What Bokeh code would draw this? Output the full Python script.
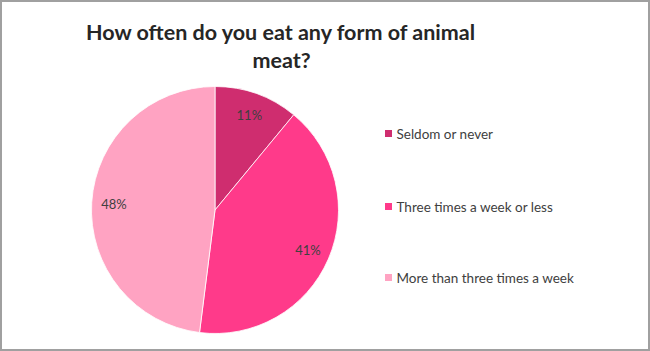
import numpy as np
from bokeh.plotting import figure
from bokeh.models import ColumnDataSource
from bokeh.core.properties import value
from bokeh.embed import file_html
from bokeh.resources import INLINE

categories = ["Seldom or never", "Three times a week or less", "More than three times a week"]
percents = [11, 41, 48]
labels = ["11%", "41%", "48%"]
colors = ["#CF2D6F", "#FF3A8A", "#FFA3C2"]
title_lines = ["How often do you eat any form of animal", "meat?"]

W, H = 650, 351
p = figure(width=W, height=H, x_range=(0, W), y_range=(0, H), min_border=0,
           toolbar_location=None, output_backend="svg")
p.axis.visible = False
p.grid.visible = False
p.outline_line_color = "#A0A0A0"
p.outline_line_width = 3
p.background_fill_color = "white"

cx, cy, R = 214.5, H - 209.5, 123.5
fr = np.array(percents) / sum(percents)
cum = np.concatenate([[0], np.cumsum(fr)])
start = np.pi / 2 - 2 * np.pi * cum[:-1]
end = np.pi / 2 - 2 * np.pi * cum[1:]
mid = (start + end) / 2

src = ColumnDataSource(dict(start=start, end=end, color=colors, cat=categories,
                            lx=cx + 0.82 * R * np.cos(mid), ly=cy + 0.82 * R * np.sin(mid),
                            label=labels))
p.wedge(x=cx, y=cy, radius=R, start_angle="start", end_angle="end", direction="clock",
        fill_color="color", line_color="white", line_width=0.8, source=src)
p.text(x="lx", y="ly", text="label", source=src, text_align="center", text_baseline="middle",
       text_font=value("Lato"), text_font_size="13px", text_color="#404040")

# legend
ly = [H - 133, H - 206, H - 277]
lsrc = ColumnDataSource(dict(y=ly, color=colors, cat=categories))
p.scatter(x=388, y="y", marker="square", size=7, fill_color="color", line_color=None, source=lsrc)
p.text(x=396, y="y", text="cat", source=lsrc, text_align="left", text_baseline="middle",
       text_font=value("Lato"), text_font_size="13.5px", text_color="#404040")

# title
p.text(x=[281, 281], y=[H - 31, H - 59], text=title_lines, text_align="center",
       text_baseline="middle", text_font=value("Lato"), text_font_style="bold",
       text_font_size="21.5px", text_color="#262626")

open("out.html", "w").write(file_html(p, INLINE))
